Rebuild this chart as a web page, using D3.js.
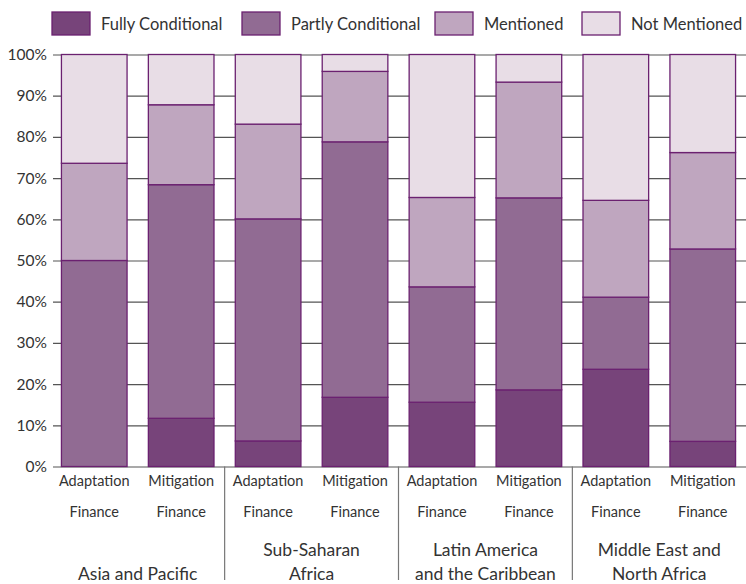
<!DOCTYPE html>
<html>
<head>
<meta charset="utf-8">
<script src="https://cdn.jsdelivr.net/npm/d3@7"></script>
<style>
  body { margin: 0; background: #fff; }
  svg { display: block; }
  text { font-family: Lato, "Open Sans", sans-serif; fill: #333; }
</style>
</head>
<body>
<div id="chart"></div>
<script>
// data (percent of each bar)
var series = ["Fully Conditional", "Partly Conditional", "Mentioned", "Not Mentioned"];
var colors = ["#77447a", "#916b93", "#bfa6bf", "#e8dde6"];
var barTop = ["Adaptation", "Mitigation", "Adaptation", "Mitigation", "Adaptation", "Mitigation", "Adaptation", "Mitigation"];
var barBottom = ["Finance", "Finance", "Finance", "Finance", "Finance", "Finance", "Finance", "Finance"];
var groupLines = [["", "Asia and Pacific"], ["Sub-Saharan", "Africa"], ["Latin America", "and the Caribbean"], ["Middle East and", "North Africa"]];
var fully = [0, 11.7, 6.2, 16.8, 15.6, 18.6, 23.6, 6.1];
var partly = [50, 56.7, 53.9, 62.0, 28.0, 46.6, 17.5, 46.7];
var mentioned = [23.6, 19.4, 23.0, 17.1, 21.7, 28.1, 23.5, 23.4];
var notMentioned = [26.4, 12.2, 16.9, 4.1, 34.7, 6.7, 35.4, 23.8];
var yTicks = [0, 10, 20, 30, 40, 50, 60, 70, 80, 90, 100];

var width = 746, height = 584;
var plotLeft = 53, plotRight = 746, plotTop = 54.5, plotBottom = 466.5;
var edge = "#6b2170";

var rows = barTop.map(function(d, i) {
    return { i: i, fully: fully[i], partly: partly[i], mentioned: mentioned[i], notMentioned: notMentioned[i] };
});
var keys = ["fully", "partly", "mentioned", "notMentioned"];

var svg = d3.select("#chart").append("svg")
    .attr("width", width)
    .attr("height", height);

// scales
var x = d3.scaleBand()
    .domain(d3.range(barTop.length))
    .range([51, plotRight])
    .paddingInner(0.245)
    .paddingOuter(0.12);

var y = d3.scaleLinear()
    .domain([0, 100])
    .range([plotBottom, plotTop]);

// y axis + gridlines
var yAxis = svg.append("g")
    .attr("transform", "translate(" + plotLeft + ",0)")
    .call(d3.axisLeft(y).tickValues(yTicks).tickSize(-(plotRight - plotLeft)).tickPadding(6)
        .tickFormat(function(d) { return d + "%"; }));
yAxis.select(".domain").remove();
yAxis.selectAll("line").attr("stroke", "#555").attr("stroke-width", 1.2);
yAxis.selectAll("text")
    .style("font-family", "Lato, sans-serif")
    .style("font-size", "15.5px")
    .attr("fill", "#333");

// bars
var stacked = d3.stack().keys(keys)(rows);
svg.append("g").selectAll("g")
    .data(stacked)
    .enter().append("g")
    .attr("fill", function(d, k) { return colors[k]; })
    .selectAll("rect")
    .data(function(d) { return d; })
    .enter().append("rect")
    .attr("x", function(d) { return x(d.data.i); })
    .attr("y", function(d) { return y(d[1]); })
    .attr("width", x.bandwidth())
    .attr("height", function(d) { return y(d[0]) - y(d[1]); })
    .attr("stroke", edge)
    .attr("stroke-width", 1.3);

// bar labels
var labels = svg.append("g").selectAll("text")
    .data(barTop)
    .enter().append("text")
    .attr("text-anchor", "middle")
    .style("font-size", "14.5px");
labels.append("tspan")
    .attr("x", function(d, i) { return x(i) + x.bandwidth() / 2; })
    .attr("y", 486)
    .text(function(d) { return d; });
labels.append("tspan")
    .attr("x", function(d, i) { return x(i) + x.bandwidth() / 2; })
    .attr("y", 516.5)
    .text(function(d, i) { return barBottom[i]; });

// group labels
var groupText = svg.append("g").selectAll("text")
    .data(groupLines)
    .enter().append("text")
    .attr("text-anchor", "middle")
    .style("font-size", "17.5px");
groupText.each(function(lines, g) {
    var cx = (x(g * 2) + x(g * 2 + 1) + x.bandwidth()) / 2;
    d3.select(this).append("tspan").attr("x", cx).attr("y", 556).text(lines[0]);
    d3.select(this).append("tspan").attr("x", cx).attr("y", 580).text(lines[1]);
});

// separators between regions
svg.append("g").selectAll("line")
    .data([1, 2, 3])
    .enter().append("line")
    .attr("x1", function(g) { return (x(g * 2 - 1) + x.bandwidth() + x(g * 2)) / 2; })
    .attr("x2", function(g) { return (x(g * 2 - 1) + x.bandwidth() + x(g * 2)) / 2; })
    .attr("y1", plotBottom)
    .attr("y2", 580)
    .attr("stroke", "#777")
    .attr("stroke-width", 1.2);

// legend
var legendX = [52, 242, 435, 582];
var legend = svg.append("g").selectAll("g")
    .data(series)
    .enter().append("g")
    .attr("transform", function(d, i) { return "translate(" + legendX[i] + ",12)"; });
legend.append("rect")
    .attr("width", 38)
    .attr("height", 23)
    .attr("fill", function(d, i) { return colors[i]; })
    .attr("stroke", edge)
    .attr("stroke-width", 1.3);
legend.append("text")
    .attr("x", 49)
    .attr("y", 18)
    .style("font-size", "16.5px")
    .text(function(d) { return d; });
</script>
</body>
</html>
